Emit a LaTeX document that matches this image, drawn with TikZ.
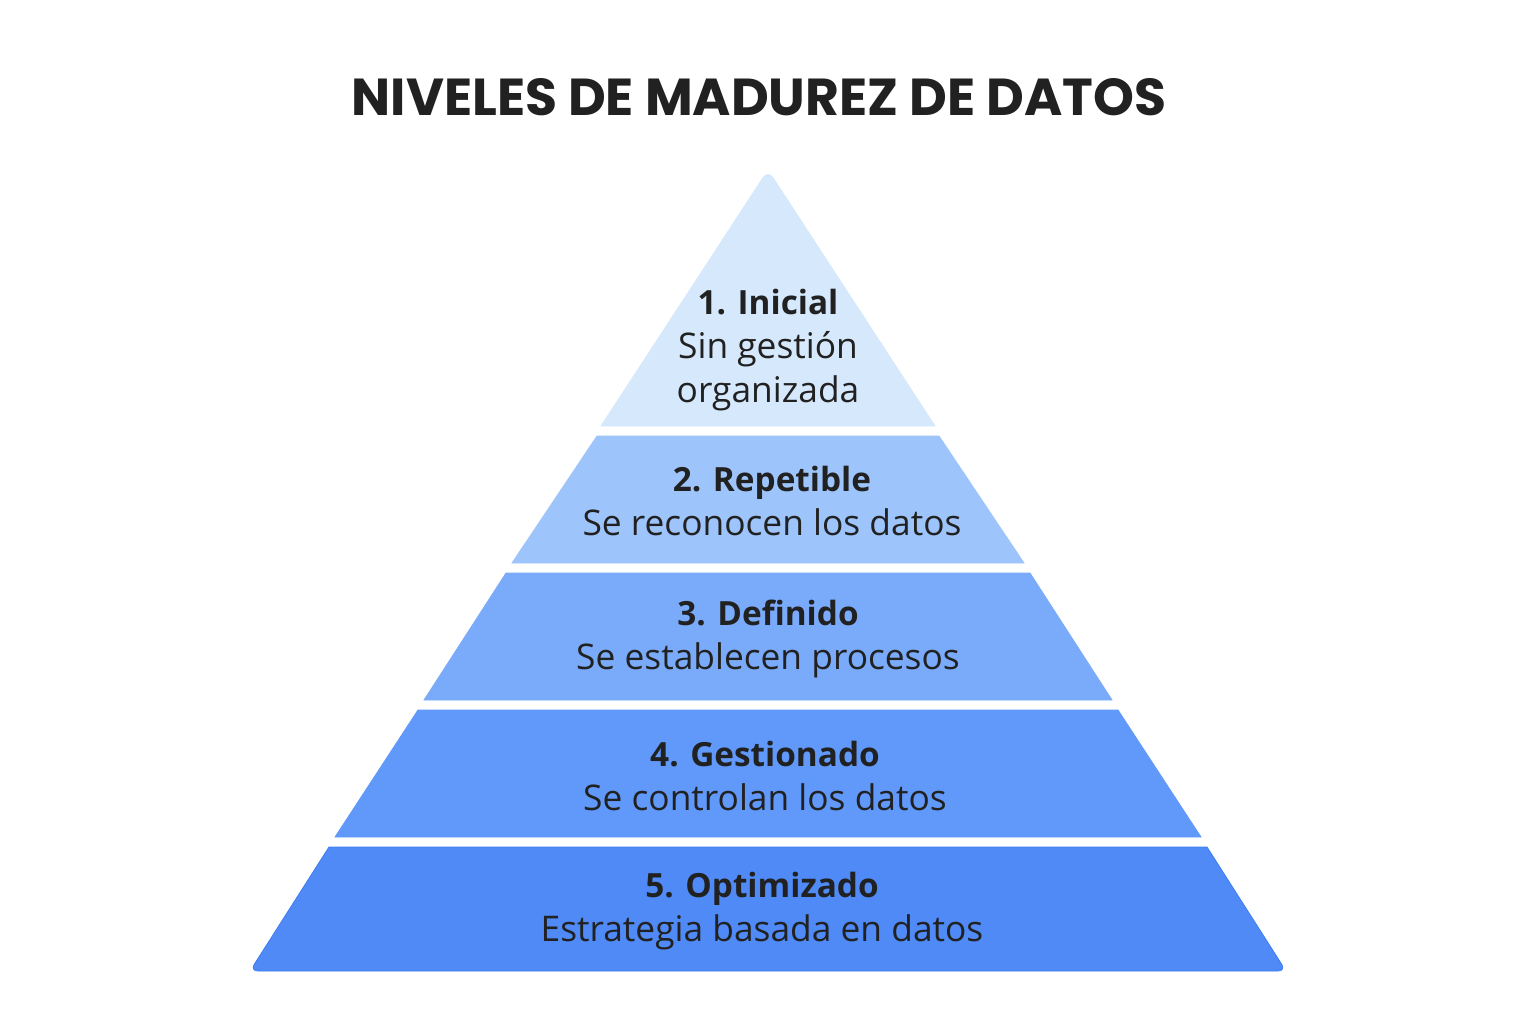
\documentclass[tikz,border=0pt]{standalone}
\usepackage{fontspec}
\setmainfont{Open Sans}
\newfontfamily\titlefont{Poppins}

\begin{document}
\begin{tikzpicture}[x=0.75pt,y=-0.75pt]
\definecolor{mycolorFFFFFF}{rgb}{1,1,1}
\definecolor{mycolor222222}{rgb}{0.13,0.13,0.13}
\definecolor{mycolorD5E7FC}{rgb}{0.84,0.91,0.99}
\definecolor{mycolor9FC5FC}{rgb}{0.62,0.77,0.99}
\definecolor{mycolor7BABFB}{rgb}{0.48,0.67,0.98}
\definecolor{mycolor6298FA}{rgb}{0.38,0.6,0.98}
\definecolor{mycolor4F8AF7}{rgb}{0.31,0.54,0.97}
\definecolor{mycolor3D7CF0}{rgb}{0.24,0.49,0.94}
\newcommand{\lvlhead}[1]{{\fontsize{25pt}{33pt}\selectfont\bfseries #1}}
\tikzset{
  band/.style={line width=0.6pt},
  lvltext/.style={text=mycolor222222,align=center,inner sep=0.0,
    font=\fontsize{26.5pt}{33pt}\selectfont},
}
\path [fill=mycolorFFFFFF] (0,0) rectangle (1536,1024);
\useasboundingbox (0,0) rectangle (1536,1024);
\begin{scope}
% \titlefont
\node (title) at (759,97) [text=mycolor222222,inner sep=0.0]{\titlefont\bfseries\fontsize{39pt}{47pt}\selectfont NIVELES DE MADUREZ DE DATOS};
\end{scope}
\begin{scope}
\path [band,fill=mycolorD5E7FC,draw=mycolorD5E7FC] (601,426) [rounded corners=7pt] -- (768,170) [sharp corners] -- (935,426) -- cycle;
\path [band,fill=mycolor9FC5FC,draw=mycolor9FC5FC] (597,436) -- (939,436) -- (1024,563) -- (512,563) -- cycle;
\path [band,fill=mycolor7BABFB,draw=mycolor7BABFB] (506,573) -- (1030,573) -- (1112,700) -- (424,700) -- cycle;
\path [band,fill=mycolor6298FA,draw=mycolor6298FA] (418,710) -- (1118,710) -- (1201,837) -- (335,837) -- cycle;
\path [band,fill=mycolor4F8AF7,draw=mycolor3D7CF0] (329,847) -- (1207,847) [rounded corners=6pt] -- (1286,971) -- (250,971) [sharp corners] -- cycle;
\end{scope}
\begin{scope}
% \setmainfont{Open Sans}
\node (lvl1) at (768,350) [lvltext]{\lvlhead{1. Inicial}\\Sin gestión\\organizada};
\node (lvl2) at (772,501) [lvltext]{\lvlhead{2. Repetible}\\Se reconocen los datos};
\node (lvl3) at (768,639) [lvltext]{\lvlhead{3. Definido}\\Se establecen procesos};
\node (lvl4) at (765,776) [lvltext]{\lvlhead{4. Gestionado}\\Se controlan los datos};
\node (lvl5) at (762,911) [lvltext]{\lvlhead{5. Optimizado}\\Estrategia basada en datos};
\end{scope}
\end{tikzpicture}
\end{document}
